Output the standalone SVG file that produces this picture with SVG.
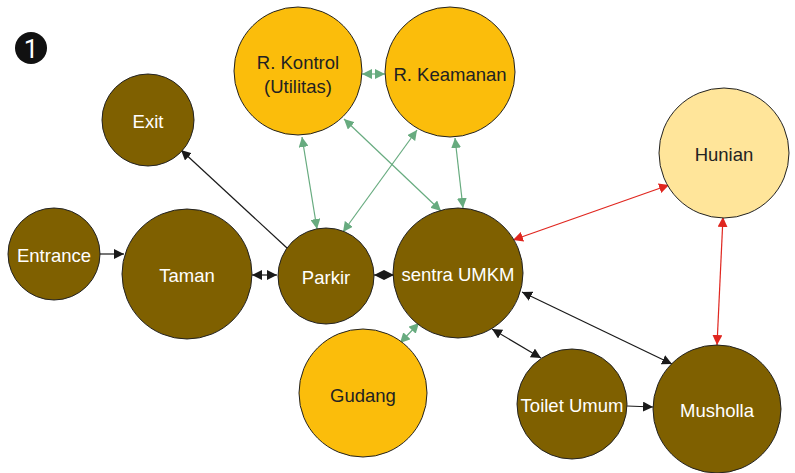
<svg xmlns="http://www.w3.org/2000/svg" width="795" height="473" viewBox="0 0 795 473">
<style>
.brown{fill:#7f6000;stroke:#222;stroke-width:1}
.yellow{fill:#fbbd0b;stroke:#222;stroke-width:1}
.light{fill:#ffe59a;stroke:#222;stroke-width:1}
text{font-family:"Liberation Sans",Arial,sans-serif;font-size:18.5px;text-anchor:middle;dominant-baseline:central}
.w{fill:#fff}
.d{fill:#222}
.k{stroke:#1a1a1a;stroke-width:1.2;fill:none}
.g{stroke:#67ab7f;stroke-width:1.2;fill:none}
.r{stroke:#e0261f;stroke-width:1.2;fill:none}
</style>
<defs>
<marker id="ak" viewBox="0 0 10 10" refX="10" refY="5" markerWidth="10" markerHeight="10" markerUnits="userSpaceOnUse" orient="auto-start-reverse"><path d="M0,0 L10,5 L0,10 Z" fill="#1a1a1a"/></marker>
<marker id="ag" viewBox="0 0 10 10" refX="10" refY="5" markerWidth="10" markerHeight="10" markerUnits="userSpaceOnUse" orient="auto-start-reverse"><path d="M0,0 L10,5 L0,10 Z" fill="#67ab7f"/></marker>
<marker id="ar" viewBox="0 0 10 10" refX="10" refY="5" markerWidth="10" markerHeight="10" markerUnits="userSpaceOnUse" orient="auto-start-reverse"><path d="M0,0 L10,5 L0,10 Z" fill="#e0261f"/></marker>
</defs>
<rect width="795" height="473" fill="#fff"/>
<g id="badge"><circle cx="31" cy="48" r="16" fill="#111"/><text x="31" y="49" class="w" style="font-size:26px;font-family:Roboto,'Open Sans',sans-serif">1</text></g>

<g id="connectors">
<line class="k" x1="100" y1="254" x2="124" y2="254" marker-end="url(#ak)"/>
<line class="k" x1="287" y1="248" x2="181" y2="150" marker-end="url(#ak)"/>
<line class="k" x1="252" y1="275" x2="277" y2="275" marker-start="url(#ak)" marker-end="url(#ak)"/>
<line class="k" x1="374" y1="275" x2="394" y2="275" marker-start="url(#ak)" marker-end="url(#ak)"/>
<line class="g" x1="362" y1="74" x2="385" y2="74" marker-start="url(#ag)" marker-end="url(#ag)"/>
<line class="g" x1="302" y1="137" x2="317" y2="229" marker-start="url(#ag)" marker-end="url(#ag)"/>
<line class="g" x1="344" y1="119" x2="441" y2="211" marker-start="url(#ag)" marker-end="url(#ag)"/>
<line class="g" x1="417" y1="130" x2="343" y2="232" marker-start="url(#ag)" marker-end="url(#ag)"/>
<line class="g" x1="455" y1="138" x2="463" y2="208" marker-start="url(#ag)" marker-end="url(#ag)"/>
<line class="g" x1="400" y1="343" x2="419" y2="323" marker-start="url(#ag)" marker-end="url(#ag)"/>
<line class="k" x1="492" y1="329" x2="541" y2="358" marker-start="url(#ak)" marker-end="url(#ak)"/>
<line class="k" x1="522" y1="292" x2="672" y2="364" marker-start="url(#ak)" marker-end="url(#ak)"/>
<line class="k" x1="627" y1="406" x2="653" y2="407" marker-end="url(#ak)"/>
<line class="r" x1="669" y1="185" x2="513" y2="240" marker-start="url(#ar)" marker-end="url(#ar)"/>
<line class="r" x1="723" y1="217" x2="717" y2="345" marker-start="url(#ar)" marker-end="url(#ar)"/>
</g>

<g id="exit"><circle class="brown" cx="148" cy="120" r="46"/><text class="w" x="148" y="121">Exit</text></g>
<g id="entrance"><circle class="brown" cx="54" cy="254" r="46"/><text class="w" x="54" y="255">Entrance</text></g>
<g id="taman"><circle class="brown" cx="187" cy="274" r="65"/><text class="w" x="187" y="275">Taman</text></g>
<g id="parkir"><circle class="brown" cx="326" cy="276" r="48"/><text class="w" x="326" y="277">Parkir</text></g>
<g id="sentra"><circle class="brown" cx="458" cy="273" r="65"/><text class="w" x="458" y="274">sentra UMKM</text></g>
<g id="kontrol"><circle class="yellow" cx="298" cy="71" r="64"/><text class="d" x="298" y="62">R. Kontrol</text><text class="d" x="298" y="86">(Utilitas)</text></g>
<g id="keamanan"><circle class="yellow" cx="450" cy="72" r="65"/><text class="d" x="450" y="74">R. Keamanan</text></g>
<g id="hunian"><circle class="light" cx="724" cy="153" r="65"/><text class="d" x="724" y="154">Hunian</text></g>
<g id="gudang"><circle class="yellow" cx="363" cy="393" r="64"/><text class="d" x="363" y="395">Gudang</text></g>
<g id="toilet"><circle class="brown" cx="572" cy="404" r="55"/><text class="w" x="572" y="405">Toilet Umum</text></g>
<g id="musholla"><circle class="brown" cx="717" cy="409" r="64"/><text class="w" x="717" y="410">Musholla</text></g>
</svg>
